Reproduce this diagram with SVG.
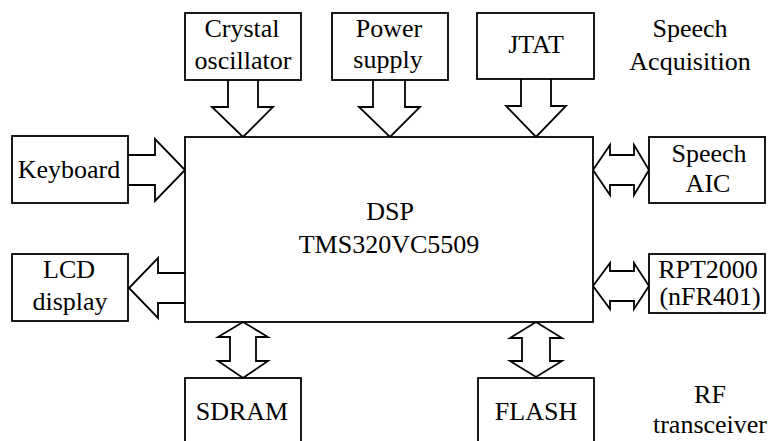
<svg xmlns="http://www.w3.org/2000/svg" width="769" height="441" viewBox="0 0 769 441">
<style>
.box{fill:#fff;stroke:#000;stroke-width:1.8}
.arr{fill:#fff;stroke:#000;stroke-width:1.8;stroke-linejoin:miter}
text{font-family:"Liberation Serif","Times New Roman",serif;font-size:26px;fill:#000;text-anchor:middle}
</style>
<rect width="769" height="441" fill="#fff"/>
<g id="connectors">
<path class="arr" d="M228,80 V107 H212 L243,137 L273,107 H258 V80"/>
<path class="arr" d="M373,80 V107 H359 L390,137 L420,107 H405 V80"/>
<path class="arr" d="M521,79 V106 H506 L536,137 L566,106 H551 V79"/>
<path class="arr" d="M128,155 H155 V139 L185,170 L155,201 V185 H128"/>
<path class="arr" d="M185,273 H158 V258 L129,288 L158,318 V303 H185"/>
<path class="arr" d="M593,170 L610,145 V155 H634 V145 L649,170 L634,195 V185 H610 V195 Z"/>
<path class="arr" d="M593,286 L610,263 V271 H634 V263 L649,286 L634,309 V301 H610 V309 Z"/>
<path class="arr" d="M243,322 L268,337 H256 V361 H268 L243,378 L218,361 H230 V337 H218 Z"/>
<path class="arr" d="M536,322 L562,338 H550 V361 H562 L536,377 L510,361 H522 V338 H510 Z"/>
</g>
<g id="dsp">
<rect class="box" x="185" y="137" width="408" height="185"/>
<text x="390" y="220">DSP</text>
<text x="389" y="253">TMS320VC5509</text>
</g>
<g id="crystal">
<rect class="box" x="185" y="13" width="116" height="67"/>
<text x="242" y="37">Crystal</text>
<text x="243" y="69">oscillator</text>
</g>
<g id="power">
<rect class="box" x="332" y="13" width="116" height="67"/>
<text x="389" y="37">Power</text>
<text x="388" y="68">supply</text>
</g>
<g id="jtat">
<rect class="box" x="477" y="13" width="117" height="66"/>
<text x="536" y="53">JTAT</text>
</g>
<g id="speech-acq">
<text x="690" y="37">Speech</text>
<text x="690" y="70">Acquisition</text>
</g>
<g id="keyboard">
<rect class="box" x="12" y="136" width="116" height="67"/>
<text x="69" y="178">Keyboard</text>
</g>
<g id="lcd">
<rect class="box" x="12" y="254" width="116" height="67"/>
<text x="69" y="278">LCD</text>
<text x="70" y="310">display</text>
</g>
<g id="speech-aic">
<rect class="box" x="649" y="137" width="116" height="66"/>
<text x="709" y="162">Speech</text>
<text x="708" y="192">AIC</text>
</g>
<g id="rpt2000">
<rect class="box" x="649" y="254" width="116" height="59"/>
<text x="708" y="278">RPT2000</text>
<text x="710" y="305">(nFR401)</text>
</g>
<g id="sdram">
<rect class="box" x="185" y="378" width="116" height="70"/>
<text x="242" y="420">SDRAM</text>
</g>
<g id="flash">
<rect class="box" x="478" y="378" width="116" height="70"/>
<text x="536" y="420">FLASH</text>
</g>
<g id="rf">
<text x="710" y="403">RF</text>
<text x="710" y="433">transceiver</text>
</g>
</svg>
